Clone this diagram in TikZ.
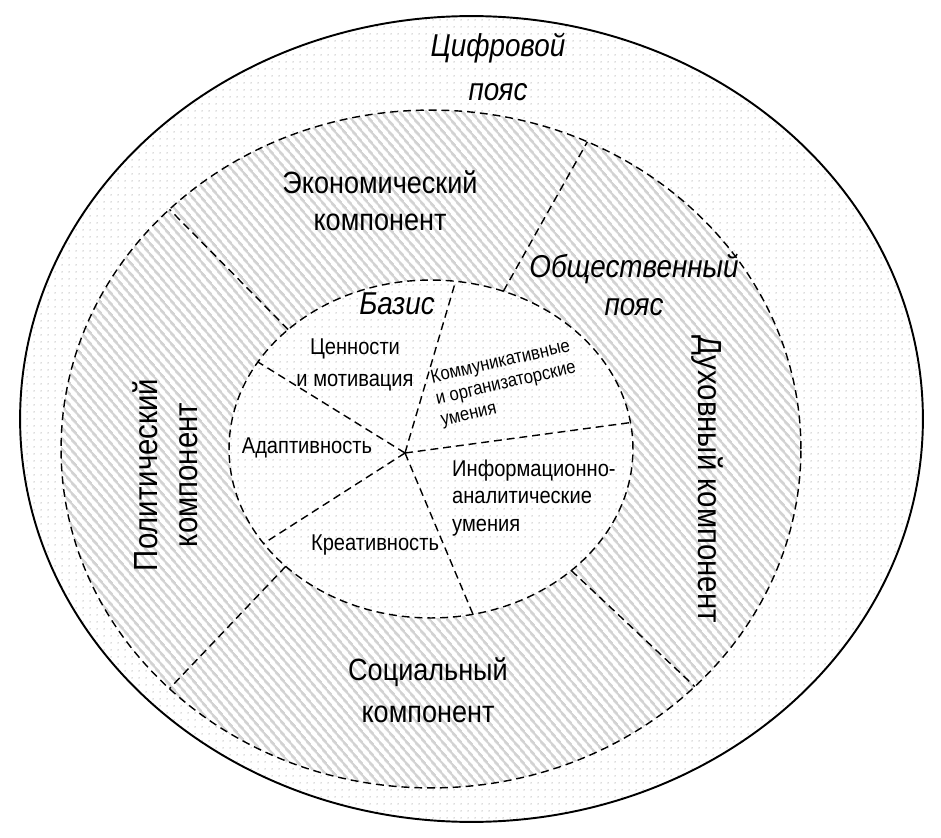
\documentclass[tikz,border=0pt]{standalone}
\usepackage{fontspec}
\setmainfont{Liberation Sans}[FakeStretch=0.88]
\usetikzlibrary{patterns.meta}

\tikzset{
  belt/.style={dash pattern=on 4.5pt off 2.8pt, line width=0.8pt},
  dotfill/.style={pattern={Dots[distance=4pt, radius=0.45pt]}, pattern color=gray!55},
  hatchfill/.style={pattern={Lines[angle=-50, distance=4pt, line width=1.6pt]}, pattern color=gray!35},
  bigtext/.style={font=\fontsize{17.5}{21}\selectfont, align=center},
  beltname/.style={font=\fontsize{18}{25}\itshape, align=center},
  basetext/.style={font=\fontsize{13}{18}\selectfont, align=center}
}

\begin{document}
\begin{tikzpicture}[x=0.02cm, y=-0.02cm]
    \fill[white] (0,0) rectangle (941,838);
    \useasboundingbox (0,0) rectangle (941,838);

    \coordinate (o) at (471.5,419);
    \coordinate (c) at (431,449);
    \coordinate (h) at (405,453);

    % цифровой пояс
    \fill[dotfill] (o) ellipse [x radius=9.03cm, y radius=8.06cm];
    \draw[line width=1.1pt] (o) ellipse [x radius=9.03cm, y radius=8.06cm];

    % общественный пояс
    \fill[white] (c) ellipse [x radius=7.4cm, y radius=6.78cm];
    \fill[hatchfill] (c) ellipse [x radius=7.4cm, y radius=6.78cm];
    \draw[belt] (c) ellipse [x radius=7.4cm, y radius=6.78cm];

    % базис
    \fill[white] (c) ellipse [x radius=4.04cm, y radius=3.38cm];
    \fill[dotfill] (c) ellipse [x radius=4.04cm, y radius=3.38cm];
    \draw[belt] (c) ellipse [x radius=4.04cm, y radius=3.38cm];

    \foreach \t [count=\i] in {83, 149, 214, 282, 9} {
        \path ([shift={(431,449)}]\t:4.04cm and 3.38cm) coordinate (s\i);
        \draw[belt] (h) -- (s\i);
    }
    \foreach \a/\b [count=\i] in {135/135, 69/65, -46/-44.5, 224/225} {
        \path ([shift={(431,449)}]\a:4.04cm and 3.38cm) coordinate (p\i);
        \path ([shift={(431,449)}]\b:7.4cm and 6.78cm) coordinate (q\i);
        \draw[belt] (p\i) -- (q\i);
    }

    \node[beltname] (cifr) at (498,67) {Цифровой\\пояс};
    \node[beltname, font=\fontsize{18}{22}\itshape] (obsh) at (634,285) {Общественный\\пояс};
    \node[beltname] (baz) at (397,304) {Базис};

    \node[bigtext] (econ) at (380,201) {Экономический\\компонент};
    \node[bigtext, font=\fontsize{17.5}{24}\selectfont] (soc) at (428,690) {Социальный\\компонент};
    \node[bigtext, font=\fontsize{19}{23}\selectfont, rotate=90] (pol) at (165,475) {Политический\\компонент};
    \node[bigtext, font=\fontsize{19}{23}\selectfont, rotate=-90] (duh) at (707,479) {Духовный компонент};

    \node[basetext] (cen) at (355,365) {Ценности\\и мотивация};
    \node[basetext] (adap) at (307,448) {Адаптивность};
    \node[basetext] (kreat) at (375,545) {Креативность};
    \node[basetext, align=left, anchor=west, font=\fontsize{13}{15.6}\selectfont] (inf) at (446,498) {Информационно-\\аналитические\\умения};
    \node[basetext, align=left, rotate=13, inner sep=1pt, font=\fontsize{10.8}{12.5}\selectfont] (kom) at (506,384) {Коммуникативные\\и организаторские\\умения};
\end{tikzpicture}
\end{document}
